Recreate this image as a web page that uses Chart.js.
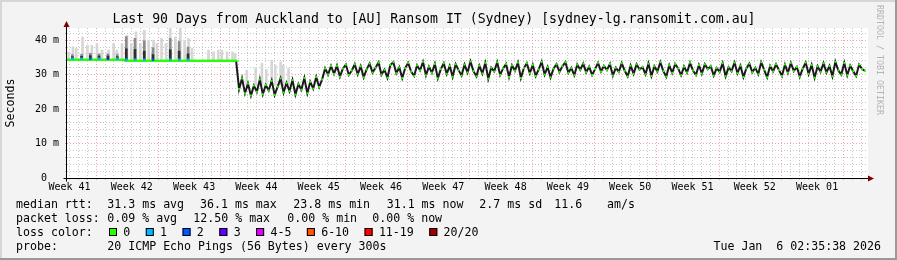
<!DOCTYPE html>
<html>
<head>
<meta charset="utf-8">
<script src="https://cdn.jsdelivr.net/npm/chart.js@4.4.1/dist/chart.umd.min.js"></script>
<style>
html, body { margin: 0; padding: 0; background: #f3f3f3; }
#wrap { width: 897px; height: 260px; }
</style>
</head>
<body>
<div id="wrap"><canvas id="graph" width="897" height="260"></canvas></div>
<script>
// median rtt (ms), one sample every 1/3 day, 90 days back from now
const sampleStep = 1 / 3;
const median = [
  34.3, 34.3, 34.3, 34.3, 34.3, 34.3, 34.3, 34.3, 34.3, 34.3, 34.3, 34.3, 34.3, 34.3, 34.3,
  34.3, 34.3, 34.3, 34.3, 34.3, 34.0, 34.0, 34.0, 34.0, 34.0, 34.0, 34.0, 34.0, 34.0, 34.0,
  34.0, 34.0, 34.0, 34.0, 34.0, 34.0, 34.0, 34.0, 34.0, 34.0, 34.0, 34.0, 34.0, 34.0, 34.0,
  34.0, 34.0, 34.0, 34.0, 34.0, 34.0, 34.0, 34.0, 34.0, 34.0, 34.0, 34.0, 34.0, 25.8, 28.9,
  24.6, 27.4, 23.9, 26.8, 25.0, 28.6, 24.3, 27.0, 25.4, 28.2, 24.1, 26.5, 28.9, 24.8, 27.6,
  25.2, 28.4, 24.2, 27.2, 25.6, 29.0, 24.6, 27.9, 25.9, 29.3, 26.4, 28.6, 31.8, 30.0, 32.5,
  30.2, 32.6, 29.4, 31.8, 32.9, 29.9, 31.2, 33.0, 30.1, 32.4, 29.2, 31.5, 33.2, 30.6, 32.0,
  33.5, 30.0, 31.4, 29.1, 32.8, 33.6, 30.4, 32.1, 29.0, 31.9, 33.4, 30.9, 29.6, 32.7, 31.2,
  33.7, 29.8, 32.3, 30.5, 33.1, 28.9, 31.6, 33.3, 30.2, 32.5, 29.4, 33.0, 31.3, 29.7, 32.9,
  30.6, 33.8, 31.0, 29.5, 32.6, 30.3, 33.4, 28.8, 32.0, 30.9, 33.6, 29.9, 31.8, 33.1, 29.3,
  32.7, 31.1, 33.5, 29.0, 31.9, 33.3, 30.4, 32.8, 29.6, 31.5, 33.7, 30.0, 32.2, 29.2, 31.7,
  33.0, 30.8, 32.4, 33.6, 30.5, 31.9, 29.8, 32.9, 31.4, 33.2, 30.7, 32.3, 29.9, 31.6, 33.4,
  30.9, 32.5, 31.3, 33.1, 29.7, 32.0, 30.8, 33.3, 31.1, 29.5, 32.6, 30.2, 33.0, 31.5, 32.2,
  30.1, 33.2, 29.6, 32.4, 30.9, 33.6, 31.0, 29.4, 32.7, 30.5, 33.1, 31.8, 29.8, 32.3, 30.6,
  33.4, 31.2, 29.9, 32.8, 30.3, 33.0, 31.6, 32.4, 29.7, 31.9, 30.8, 33.3, 29.5, 32.1, 31.0,
  33.5, 30.4, 32.6, 29.3, 31.8, 33.2, 30.7, 32.0, 30.1, 33.6, 31.4, 29.2, 32.5, 30.9, 33.0,
  31.3, 29.6, 32.9, 30.5, 33.4, 31.0, 32.2, 29.4, 31.7, 33.5, 30.2, 32.8, 29.1, 32.4, 30.8,
  33.3, 30.6, 32.5, 29.5, 33.7, 31.2, 30.0, 33.4, 29.8, 32.6, 31.0, 29.6, 32.9, 31.6, 31.1
];

// smoke: spread of the 20 pings above the median
const smokeDays = [0.18, 0.67, 1.04, 1.75, 2.3, 2.8, 3.37, 3.93, 4.67, 5.24, 5.6, 6.18,
  6.74, 7.22, 7.75, 8.24, 8.69, 9.17, 9.73, 10.1, 10.63, 11.12, 11.6, 12.17, 12.73, 13.21,
  13.66, 14.04, 15.9, 16.47, 17.0, 17.4, 17.98, 18.6, 18.9,
  20.2, 21.2, 21.9, 22.4, 23.0, 23.4, 24.0, 24.3, 24.9];
const smokeLow = [34.3, 34.3, 34.3, 34.3, 34.3, 34.3, 34.3, 34.3, 34.3, 34.3, 34.3, 34.3,
  34.0, 34.0, 34.0, 34.0, 34.0, 34.0, 34.0, 34.0, 34.0, 34.0, 34.0, 34.0, 34.0, 34.0,
  34.0, 34.0, 34.0, 34.0, 34.0, 34.0, 34.0, 34.0, 34.0,
  27.0, 27.0, 27.0, 27.0, 27.0, 27.0, 27.0, 27.0, 27.0];
const smokeHigh = [36.6, 38.1, 37.6, 40.9, 38.5, 38.5, 39.0, 37.1, 37.1, 39.0, 37.1, 39.0,
  41.4, 39.0, 42.4, 39.0, 42.9, 40.0, 40.0, 39.0, 40.5, 39.0, 43.4, 40.9, 43.8, 40.0,
  40.5, 37.6, 37.1, 36.6, 37.1, 37.1, 36.6, 36.6, 36.1,
  31.3, 32.0, 33.3, 31.5, 34.2, 32.8, 33.7, 32.8, 31.8];

// samples with packet loss, dense smoke above them
const lossDays = [0.6, 1.64, 2.62, 3.6, 4.6, 5.65, 6.66, 7.64, 8.68, 9.66, 11.6, 12.6, 13.6];
const lossLevel = [1, 1, 2, 1, 3, 1, 1, 1, 1, 2, 1, 1, 1];
const lossBase = [34.3, 34.3, 34.3, 34.3, 34.3, 34.3, 34.0, 34.0, 34.0, 34.0, 34.0, 34.0, 34.0];
const darkTop = [35.8, 35.9, 36.2, 36.0, 36.0, 35.8, 41.0, 40.5, 39.8, 37.8, 40.5, 39.6, 38.0];
const darkCore = [35.2, 35.3, 35.5, 35.4, 35.4, 35.2, 37.5, 37.3, 36.8, 35.8, 37.2, 36.8, 36.0];

const lossColors = ['#26ff00', '#00b8ff', '#0059ff', '#5e00ff', '#dd00ff', '#ff5500', '#ff0000', '#a10000'];
const lossLabels = ['0', '1', '2', '3', '4-5', '6-10', '11-19', '20/20'];

const weekLabels = ['Week 41', 'Week 42', 'Week 43', 'Week 44', 'Week 45', 'Week 46', 'Week 47',
  'Week 48', 'Week 49', 'Week 50', 'Week 51', 'Week 52', 'Week 01'];
const firstWeekLine = 3.78;   // day offset of the first week boundary
const firstDayLine = 0.78;
const yTicks = [0, 2, 4, 6, 8, 10, 12, 14, 16, 18, 20, 22, 24, 26, 28, 30, 32, 34, 36, 38, 40, 42];
const yLabelValues = [0, 10, 20, 30, 40];
const yLabels = ['0  ', '10 m', '20 m', '30 m', '40 m'];

const mono = "'DejaVu Sans Mono', monospace";
const legendFont = "11.6px 'DejaVu Sans Mono', monospace";
const majorGrid = '#f2a0a0';
const minorGrid = '#c6c6c6';

const medianPts = median.map((v, i) => ({ x: i * sampleStep, y: v }));

function isWeekLine(d) {
  const r = ((d - firstWeekLine) % 7 + 7) % 7;
  return r < 0.01 || r > 6.99;
}

// flat stretches of the median get a continuous green line, spikes only short caps
function capRadius(c) {
  const i = c.dataIndex;
  const flat = median[i] === median[i - 1] || median[i] === median[i + 1];
  return flat ? 1.7 : 0.9;
}

const decor = {
  id: 'decor',
  beforeDraw(chart) {
    const { ctx, chartArea: a } = chart;
    ctx.save();
    ctx.fillStyle = '#f3f3f3';
    ctx.fillRect(0, 0, chart.width, chart.height);
    ctx.fillStyle = '#ffffff';
    ctx.fillRect(a.left, a.top, a.right - a.left, a.bottom - a.top);
    ctx.restore();
  },
  afterDraw(chart) {
    const { ctx, chartArea: a } = chart;
    const xs = chart.scales.x, ys = chart.scales.y;
    const x0 = xs.getPixelForValue(0) - 0.5;
    const y0 = ys.getPixelForValue(0) + 0.5;
    ctx.save();
    // axes
    ctx.strokeStyle = '#000';
    ctx.lineWidth = 1;
    ctx.beginPath();
    ctx.moveTo(x0, y0 + 3); ctx.lineTo(x0, a.top - 4);
    ctx.moveTo(x0 - 3, y0); ctx.lineTo(a.right + 3, y0);
    ctx.stroke();
    ctx.fillStyle = '#7f0000';
    ctx.beginPath();
    ctx.moveTo(x0, a.top - 7); ctx.lineTo(x0 - 3, a.top - 1); ctx.lineTo(x0 + 3, a.top - 1); ctx.closePath();
    ctx.fill();
    ctx.beginPath();
    ctx.moveTo(a.right + 6, y0); ctx.lineTo(a.right, y0 - 3); ctx.lineTo(a.right, y0 + 3); ctx.closePath();
    ctx.fill();

    // legend
    ctx.font = legendFont;
    ctx.fillStyle = '#000';
    ctx.textBaseline = 'alphabetic';
    ctx.fillText('median rtt:', 16, 208);
    ctx.fillText('31.3 ms avg', 107.3, 208);
    ctx.fillText('36.1 ms max', 200, 208);
    ctx.fillText('23.8 ms min', 293.3, 208);
    ctx.fillText('31.1 ms now', 386.7, 208);
    ctx.fillText('2.7 ms sd', 479.3, 208);
    ctx.fillText('11.6', 554.3, 208);
    ctx.fillText('am/s', 607, 208);

    ctx.fillText('packet loss:', 16, 222);
    ctx.fillText('0.09 % avg', 107.3, 222);
    ctx.fillText('12.50 % max', 193.3, 222);
    ctx.fillText('0.00 % min', 287.3, 222);
    ctx.fillText('0.00 % now', 372.3, 222);

    ctx.fillText('loss color:', 16, 236);
    let bx = 109;
    lossLabels.forEach((lab, k) => {
      ctx.fillStyle = lossColors[k];
      ctx.fillRect(bx, 228, 8, 8);
      ctx.strokeStyle = '#000';
      ctx.strokeRect(bx + 0.5, 228.5, 7, 7);
      ctx.fillStyle = '#000';
      ctx.fillText(lab, bx + 14.3, 236);
      bx = bx + 14.3 + ctx.measureText(lab).width + 15.5;
    });

    ctx.fillText('probe:', 16, 250);
    ctx.fillText('20 ICMP Echo Pings (56 Bytes) every 300s', 107.3, 250);
    ctx.textAlign = 'right';
    ctx.fillText('Tue Jan  6 02:35:38 2026', 881, 250);

    // watermark
    ctx.translate(883, 5);
    ctx.rotate(Math.PI / 2);
    ctx.textAlign = 'left';
    ctx.textBaseline = 'top';
    ctx.font = "8.3px 'DejaVu Sans Mono', monospace";
    ctx.fillStyle = '#b4b4b4';
    ctx.fillText('RRDTOOL / TOBI OETIKER', 0, 0);
    ctx.setTransform(1, 0, 0, 1, 0, 0);

    // 3d frame
    ctx.fillStyle = '#d6d6d6';
    ctx.fillRect(0, 0, chart.width, 2);
    ctx.fillRect(0, 0, 2, chart.height);
    ctx.fillStyle = '#9a9a9a';
    ctx.fillRect(0, chart.height - 2, chart.width, 2);
    ctx.fillRect(chart.width - 2, 0, 2, chart.height);
    ctx.restore();
  }
};

new Chart(document.getElementById('graph'), {
  type: 'line',
  data: {
    datasets: [
      {
        type: 'line', label: 'loss', order: 1,
        data: lossDays.map((d, k) => ({ x: d, y: lossBase[k] + 0.3 })),
        showLine: false, pointStyle: 'rect', pointRadius: 1.7, pointBorderWidth: 0,
        pointBackgroundColor: lossLevel.map(l => lossColors[l]),
        xAxisID: 'x', yAxisID: 'y'
      },
      {
        type: 'line', label: 'median 0 loss', order: 2,
        data: medianPts, showLine: false,
        pointStyle: 'line', pointRadius: capRadius, pointBorderWidth: 2, pointBorderColor: lossColors[0],
        xAxisID: 'x', yAxisID: 'y'
      },
      {
        type: 'line', label: 'median', order: 3,
        data: medianPts, borderColor: '#1a1a1a', borderWidth: 2,
        segment: {
          borderColor: s => s.p0.parsed.y === s.p1.parsed.y ? lossColors[0] : '#1a1a1a'
        },
        pointRadius: 0, fill: false,
        xAxisID: 'x', yAxisID: 'y'
      },
      {
        type: 'bar', label: 'smoke core', order: 4, grouped: false,
        data: lossDays.map((d, k) => ({ x: d, y: [lossBase[k], darkCore[k]] })),
        backgroundColor: '#2e2e2e', barThickness: 2,
        xAxisID: 'x', yAxisID: 'y'
      },
      {
        type: 'bar', label: 'smoke dark', order: 5, grouped: false,
        data: lossDays.map((d, k) => ({ x: d, y: [lossBase[k], darkTop[k]] })),
        backgroundColor: '#8a8a8a', barThickness: 2,
        xAxisID: 'x', yAxisID: 'y'
      },
      {
        type: 'bar', label: 'smoke', order: 6, grouped: false,
        data: smokeDays.map((d, k) => ({ x: d, y: [smokeLow[k], smokeHigh[k]] })),
        backgroundColor: '#d6d6d6', barThickness: 2,
        xAxisID: 'x', yAxisID: 'y'
      }
    ]
  },
  options: {
    responsive: false,
    animation: false,
    events: [],
    layout: { padding: { left: 0, right: 29, top: 0, bottom: 0 } },
    plugins: {
      legend: { display: false },
      tooltip: { enabled: false },
      title: {
        display: true,
        text: 'Last 90 Days from Auckland to [AU] Ransom IT (Sydney) [sydney-lg.ransomit.com.au]',
        font: { family: mono, size: 13.2, weight: 'normal', lineHeight: 1.05 },
        color: '#000',
        padding: { top: 12.4, bottom: 1.8 }
      }
    },
    scales: {
      x: {
        type: 'linear', axis: 'x', position: 'bottom', min: 0, max: 90, offset: false,
        afterBuildTicks: s => {
          const t = [];
          for (let k = 0; firstDayLine + k < 90; k++) t.push({ value: firstDayLine + k });
          s.ticks = t;
        },
        afterFit: s => { s.height = 0; },
        ticks: { display: false },
        grid: {
          drawTicks: true, tickLength: 2,
          color: c => (c.tick && isWeekLine(c.tick.value)) ? majorGrid : minorGrid
        },
        border: { display: false, dash: [1, 2], color: '#000' }
      },
      xl: {
        type: 'linear', axis: 'x', position: 'bottom', min: 0, max: 90, offset: false,
        afterBuildTicks: s => {
          s.ticks = weekLabels.map((_, k) => ({ value: firstWeekLine - 3.5 + 7 * k }));
        },
        afterFit: s => { s.height = 82; },
        ticks: {
          autoSkip: false, maxRotation: 0, padding: 3.5,
          font: { family: mono, size: 10 }, color: '#000',
          callback: (v, i) => weekLabels[i]
        },
        grid: { display: false, drawTicks: false },
        border: { display: false, color: '#000' }
      },
      y: {
        type: 'linear', position: 'left', min: 0, max: 43.5,
        afterBuildTicks: s => { s.ticks = yTicks.map(v => ({ value: v })); },
        afterFit: s => { s.width = 67; },
        ticks: {
          autoSkip: false, padding: 6,
          font: { family: mono, size: 10 }, color: '#000',
          callback: v => {
            const k = yLabelValues.indexOf(v);
            return k >= 0 ? yLabels[k] : '';
          }
        },
        title: {
          display: true, text: 'Seconds', color: '#000',
          font: { family: mono, size: 11.6 },
          padding: { top: 3.7, bottom: 0 }
        },
        grid: {
          drawTicks: true, tickLength: 2,
          color: c => (c.tick && c.tick.value % 10 === 0) ? majorGrid : minorGrid
        },
        border: { display: false, dash: [1, 2], color: '#000' }
      }
    }
  },
  plugins: [decor]
});
</script>
</body>
</html>
